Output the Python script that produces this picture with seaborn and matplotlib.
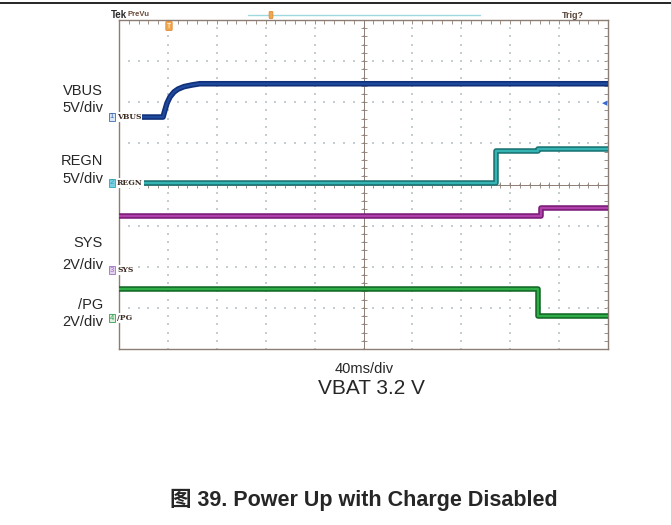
import matplotlib
matplotlib.use("Agg")
import matplotlib.pyplot as plt
from matplotlib.lines import Line2D
import numpy as np
import pandas as pd
import seaborn as sns

# time in ms (40 ms/div), level in screen divisions (0 = centre line)
vbus_t = [0, 36, 37.6, 39.3, 41.7, 45, 48.3, 53.2, 59.7, 66, 400]
vbus_y = [1.64, 1.64, 1.81, 1.98, 2.13, 2.25, 2.32, 2.38, 2.42, 2.45, 2.45]

regn_t = [0, 308, 343, 400]
regn_y = [0.04, 0.82, 0.86, 0.86]

sys_t = [0, 345, 400]
sys_y = [-0.77, -0.57, -0.57]

pg_t = [0, 343, 400]
pg_y = [-2.55, -3.2, -3.2]

channels = ["VBUS", "REGN", "SYS", "/PG"]
scales = ["5V/div", "5V/div", "2V/div", "2V/div"]
timebase = "40ms/div"
condition = "VBAT 3.2 V"
title = "图 39. Power Up with Charge Disabled"

W, H = 671, 525


def px(x, y):
    return x / W, 1 - y / H


sns.set_style("white")
plt.rcParams["font.family"] = ["Liberation Sans", "Noto Sans CJK SC", "DejaVu Sans"]

fig = plt.figure(figsize=(W / 100, H / 100), dpi=100)
ax = fig.add_axes([119 / W, 1 - 349 / H, 489 / W, 329 / H])
ax.set_xlim(0, 400)
ax.set_ylim(-4, 4)

# scope graticule
grid_c = "#c4cdd0"
maj_x = np.arange(40, 400, 40)
maj_y = np.arange(-3, 4, 1)
min_x = np.arange(0, 400.1, 8)
min_y = np.arange(-4, 4.01, 0.2)
gx, gy = np.meshgrid(maj_x, min_y)
ax.scatter(gx.ravel(), gy.ravel(), s=1.2, c=grid_c, marker="s", lw=0, zorder=1)
gx, gy = np.meshgrid(min_x, maj_y)
ax.scatter(gx.ravel(), gy.ravel(), s=1.2, c=grid_c, marker="s", lw=0, zorder=1)

edge_c = "#8c7d74"
ax.axhline(0, color=edge_c, lw=0.7, zorder=1.5)
ax.axvline(200, color=edge_c, lw=0.7, zorder=1.5)
ax.plot(min_x, np.zeros_like(min_x), ls="none", marker="|", ms=4, mew=0.6, color=edge_c, zorder=1.5)
ax.plot(np.full_like(min_y, 200), min_y, ls="none", marker="_", ms=4, mew=0.6, color=edge_c, zorder=1.5)

ax.set_xticks(np.arange(0, 401, 40))
ax.set_xticks(min_x, minor=True)
ax.set_yticks(np.arange(-4, 5, 1))
ax.set_yticks(min_y, minor=True)
ax.tick_params(which="both", direction="in", length=3, width=0.6, color=edge_c,
               top=True, right=True, labelbottom=False, labelleft=False)
for s in ax.spines.values():
    s.set_color(edge_c)
    s.set_linewidth(1.0)

# traces: dark band with lighter core
traces = [
    (vbus_t, vbus_y, False, "#10307a", "#1f4a9e"),
    (regn_t, regn_y, True, "#1c7676", "#35b4b4"),
    (sys_t, sys_y, True, "#7a1e78", "#b040aa"),
    (pg_t, pg_y, True, "#146a28", "#2fae48"),
]
for t, y, step, dark, light in traces:
    df = pd.DataFrame({"t": t, "y": y})
    kw = {"drawstyle": "steps-post"} if step else {}
    sns.lineplot(data=df, x="t", y="y", ax=ax, color=dark, lw=4.0, sort=False,
                 estimator=None, solid_capstyle="butt", zorder=3, **kw)
    sns.lineplot(data=df, x="t", y="y", ax=ax, color=light, lw=1.6, sort=False,
                 estimator=None, solid_capstyle="butt", zorder=4, **kw)
ax.set_xlabel("")
ax.set_ylabel("")

# channel markers
mark_y = [117, 183, 270, 318]
mark_c = ["#3a6ab0", "#2aa6b8", "#a070c0", "#30a050"]
mark_fc = ["#dce8f6", "#7ccfe0", "#e4d4f0", "#dcf0dc"]
for i, (name, my, mc, mf) in enumerate(zip(channels, mark_y, mark_c, mark_fc)):
    fig.text(*px(112, my), str(i + 1), fontsize=5.5, color=mc, ha="center", va="center",
             bbox=dict(boxstyle="square,pad=0.12", fc=mf, ec=mc, lw=0.6), zorder=6)
    fig.text(*px(117, my), name, fontsize=5.5, fontweight="bold", family="DejaVu Serif",
             color="#3a2a22", ha="left", va="center",
             bbox=dict(boxstyle="square,pad=0.1", fc="white", ec="none"), zorder=6)

# left labels
label_y = [(91, 108), (161, 179), (243, 265), (305, 322)]
for name, sc, (y1, y2) in zip(channels, scales, label_y):
    fig.text(*px(103, y1), name, fontsize=10.5, ha="right", va="center")
    fig.text(*px(103, y2), sc, fontsize=10.5, ha="right", va="center")

# scope header
fig.text(*px(111, 15), "Tek", fontsize=7, fontweight="bold", color="#2a2a2a", va="center")
fig.text(*px(127, 15), "PreVu", fontsize=5.5, fontweight="bold", color="#6a4a3a", va="center")
fig.text(*px(562, 15), "Trig?", fontsize=6.5, fontweight="bold", color="#5a4438", va="center")
fig.add_artist(Line2D([248 / W, 480 / W], [1 - 15 / H] * 2, color="#9fd8de", lw=1.0))
fig.text(*px(271, 15), " ", fontsize=4, ha="center", va="center",
         bbox=dict(boxstyle="round,pad=0.2", fc="#f0a850", ec="#e08a30", lw=0.6))
fig.text(*px(169, 26), "T", fontsize=5, color="white", ha="center", va="center",
         bbox=dict(boxstyle="round,pad=0.15", fc="#f0a850", ec="#e08a30", lw=0.6))
fig.text(*px(605, 103), "◀", fontsize=5, color="#3a6ad0", ha="center", va="center",
         family="DejaVu Sans")

# page rule
fig.add_artist(Line2D([0, 1], [1 - 3 / H] * 2, color="black", lw=1.2))

fig.text(*px(364, 369), timebase, fontsize=10.5, ha="center", va="center")
fig.text(*px(371, 389), condition, fontsize=15, ha="center", va="center")
fig.text(*px(364, 500), title, fontsize=15.5, fontweight="bold", ha="center", va="center")

fig.savefig("out.png", dpi=100)
